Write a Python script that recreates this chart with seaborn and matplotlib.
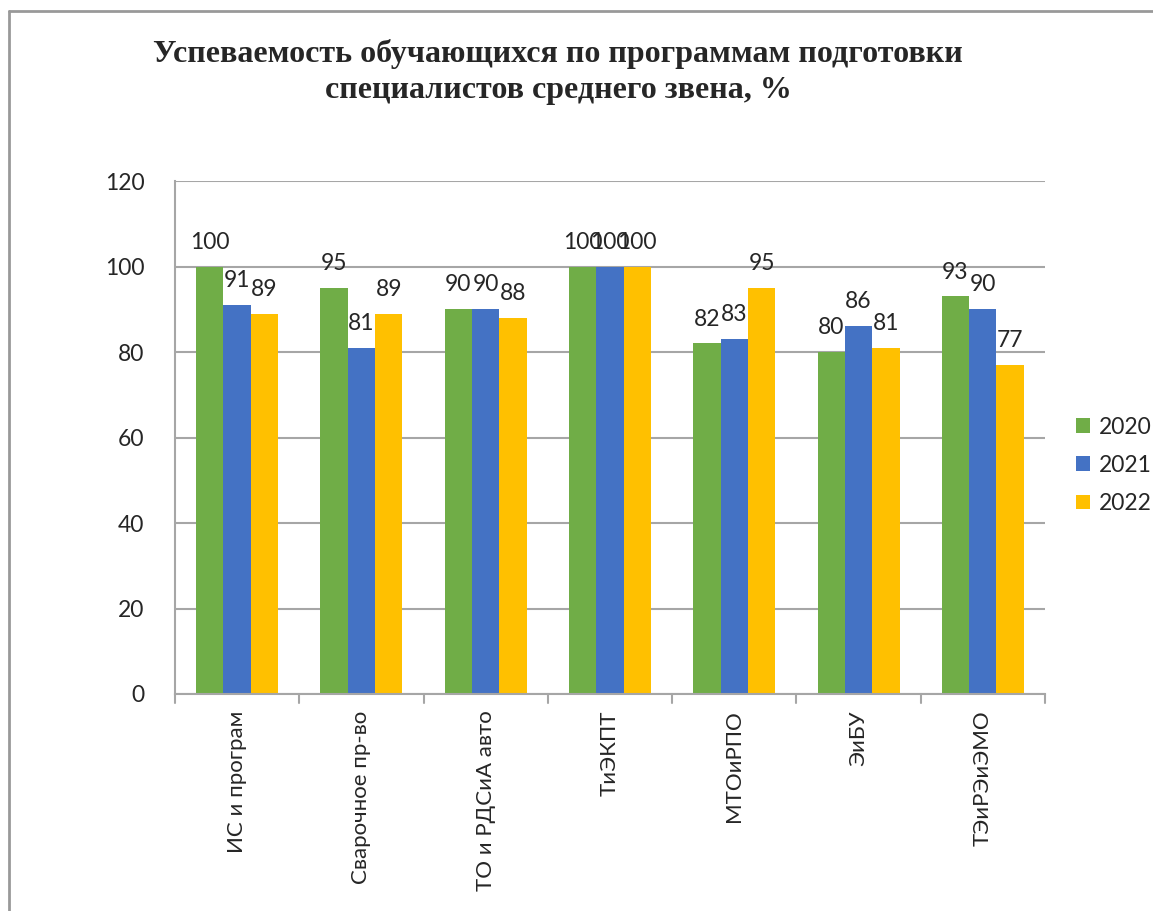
import pandas as pd
import matplotlib
matplotlib.use("Agg")
import matplotlib.pyplot as plt
import seaborn as sns

# data
categories = ["ИС и програм", "Сварочное пр-во", "ТО и РДСиА авто", "ТиЭКПТ",
              "МТОиРПО", "ЭиБУ", "ТЭиРЭиЭМО"]
years = ["2020", "2021", "2022"]
vals_2020 = [100, 95, 90, 100, 82, 80, 93]
vals_2021 = [91, 81, 90, 100, 83, 86, 90]
vals_2022 = [89, 89, 88, 100, 95, 81, 77]
colors = ["#70AD47", "#4472C4", "#FFC000"]

df = pd.DataFrame({
    "category": categories * 3,
    "year": [y for y in years for _ in categories],
    "value": vals_2020 + vals_2021 + vals_2022,
})

sns.set_style("white")
plt.rcParams["font.family"] = ["Lato", "DejaVu Sans"]

fig = plt.figure(figsize=(11.53, 9.11), dpi=100)
ax = fig.add_axes([0.1518, 0.2382, 0.7545, 0.5631])

sns.barplot(data=df, x="category", y="value", hue="year", palette=colors,
            width=0.66, ax=ax, saturation=1, errorbar=None, linewidth=0)

for cont in ax.containers:
    ax.bar_label(cont, fontsize=16.5, padding=10)

ax.set_ylim(0, 120)
ax.set_yticks(range(0, 121, 20))
ax.set_xlim(-0.5, len(categories) - 0.5)
ax.yaxis.grid(True, color="#A6A6A6", linewidth=1.5)
ax.set_axisbelow(True)
for s in ["top", "right"]:
    ax.spines[s].set_visible(False)
for s in ["left", "bottom"]:
    ax.spines[s].set_color("#A6A6A6")
    ax.spines[s].set_linewidth(1.5)

ax.set_xlabel("")
ax.set_ylabel("")
ax.set_xticks(range(len(categories)))
ax.set_xticklabels(categories, rotation=90, fontsize=16)
ax.tick_params(axis="x", length=0, pad=12)
ax.tick_params(axis="y", labelsize=16.5, length=6, color="#A6A6A6", width=1.5, pad=16)

# ticks between categories like Excel
for b in [i - 0.5 for i in range(len(categories) + 1)]:
    ax.plot([b, b], [0, -2.2], color="#A6A6A6", lw=1.5, clip_on=False)

ax.legend(loc="center left", bbox_to_anchor=(1.036, 0.446), frameon=False,
          fontsize=16.5, handlelength=0.6, handleheight=0.6, labelspacing=0.75,
          handletextpad=0.4, borderaxespad=0, borderpad=0)

fig.text(0.484, 0.921, "Успеваемость обучающихся по программам подготовки\nспециалистов среднего звена, %",
         ha="center", va="center", fontsize=23, fontweight="bold",
         family="Liberation Serif", linespacing=1.3)

# chart frame (top and left edges)
fig.add_artist(plt.Line2D([0.008, 1.0], [0.988, 0.988], color="#999999", lw=2))
fig.add_artist(plt.Line2D([0.008, 0.008], [0.0, 0.988], color="#999999", lw=2))

fig.savefig("out.png", dpi=100)
